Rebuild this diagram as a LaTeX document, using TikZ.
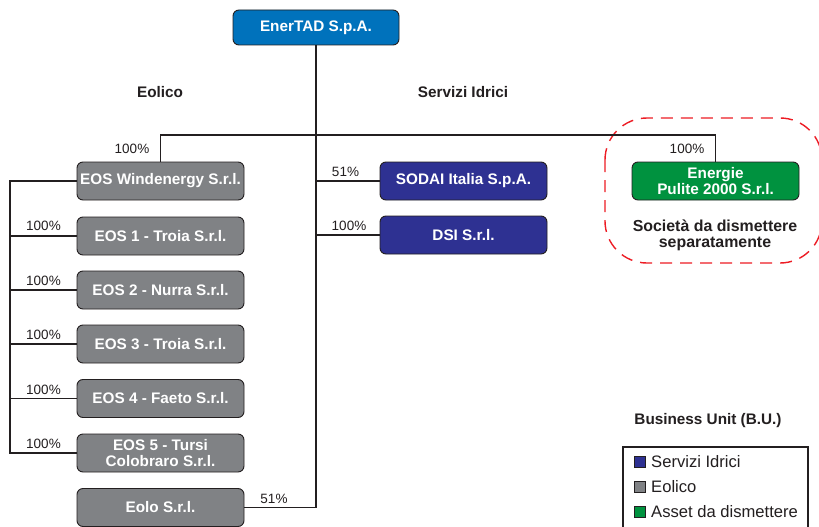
\documentclass[tikz,border=0pt]{standalone}
\usepackage{fontspec}
\setmainfont{Liberation Sans}
\definecolor{enerblue}{HTML}{0072BC}
\definecolor{servblue}{HTML}{2E3192}
\definecolor{eolgray}{HTML}{808285}
\definecolor{assetgreen}{HTML}{00923F}
\definecolor{linedark}{HTML}{231F20}
\definecolor{dashred}{HTML}{ED1C24}
\begin{document}
\begin{tikzpicture}[x=1pt,y=-1pt,
  box/.style={draw=linedark, line width=0.9pt, rounded corners=6pt,
    minimum width=167pt, minimum height=38pt, inner sep=0pt, text=white,
    font=\fontsize{15.3}{15.5}\selectfont\bfseries, align=center},
  pct/.style={font=\fontsize{13.5}{14}\selectfont, text=linedark, inner sep=0pt},
  head/.style={font=\fontsize{15.3}{16}\selectfont\bfseries, text=linedark, inner sep=0pt, align=center},
  conn/.style={draw=linedark, line width=1.3pt},
  legsq/.style={draw=linedark, line width=0.8pt, minimum size=11pt, inner sep=0pt},
  legtxt/.style={font=\fontsize{16.6}{17}\selectfont, text=linedark, inner sep=0pt, anchor=west}
]
\useasboundingbox (0,0) rectangle (819,527);
\fill[white] (0,0) rectangle (819,527);

% dashed region
\draw[dashred, line width=1.4pt, dash pattern=on 12pt off 8pt, rounded corners=42pt]
  (605,118) rectangle (822,263);

% top node
\node[box, fill=enerblue, minimum width=166pt, minimum height=35pt] (ener) at (316,27.5) {EnerTAD S.p.A.};

% headings
\node[head] (heol) at (160,92) {Eolico};
\node[head] (hserv) at (463,92) {Servizi Idrici};

% eolico boxes
\node[box, fill=eolgray] (wind) at (160.5,181) {EOS Windenergy S.r.l.};
\node[box, fill=eolgray] (eos1) at (160.5,236) {EOS 1 - Troia S.r.l.};
\node[box, fill=eolgray] (eos2) at (160.5,290) {EOS 2 - Nurra S.r.l.};
\node[box, fill=eolgray] (eos3) at (160.5,344) {EOS 3 - Troia S.r.l.};
\node[box, fill=eolgray] (eos4) at (160.5,398.5) {EOS 4 - Faeto S.r.l.};
\node[box, fill=eolgray] (eos5) at (160.5,453) {EOS 5 - Tursi\\Colobraro S.r.l.};
\node[box, fill=eolgray] (eolo) at (160.5,507.5) {Eolo S.r.l.};

% servizi idrici
\node[box, fill=servblue] (sodai) at (463.5,181) {SODAI Italia S.p.A.};
\node[box, fill=servblue] (dsi) at (463.5,235) {DSI S.r.l.};

% asset
\node[box, fill=assetgreen] (energ) at (715.5,181) {Energie\\Pulite 2000 S.r.l.};
\node[head, font=\fontsize{15.9}{15.5}\selectfont\bfseries] (soc) at (715,235.5) {Società da dismettere\\separatamente};

% coordinates
\coordinate (bar) at (316,135);
\coordinate (rail) at (10,0);

% connectors
\draw[conn] (ener.south) -- (ener.south |- eolo.east) -- (eolo.east);
\draw[conn] (wind.north) -- (wind.north |- bar) -- (energ.north |- bar) -- (energ.north);
\draw[conn] (ener.south |- sodai.west) -- (sodai.west);
\draw[conn] (ener.south |- dsi.west) -- (dsi.west);
\draw[conn] (wind.west) -- (wind.west -| rail) -- (eos5.west -| rail) -- (eos5.west);
\draw[conn] (eos1.west -| rail) -- (eos1.west);
\draw[conn] (eos2.west -| rail) -- (eos2.west);
\draw[conn] (eos3.west -| rail) -- (eos3.west);
\draw[conn] (eos4.west -| rail) -- (eos4.west);

% percentages
\node[pct] (pw) at (132,149) {100\%};
\node[pct] (pe) at (687,149) {100\%};
\node[pct] (p1) at (43.5,226) {100\%};
\node[pct] (p2) at (43.5,280.5) {100\%};
\node[pct] (p3) at (43.5,335) {100\%};
\node[pct] (p4) at (43.5,389.5) {100\%};
\node[pct] (p5) at (43.5,444) {100\%};
\node[pct] (ps) at (345.5,172) {51\%};
\node[pct] (pd) at (349,226) {100\%};
\node[pct] (pl) at (274,499) {51\%};

% legend
\node[head] (bu) at (708,421) {Business Unit (B.U.)};
\draw[draw=linedark, line width=1.2pt] (623,447) rectangle (808,530);
\node[legsq, fill=servblue] (l1) at (639.5,462) {};
\node[legsq, fill=eolgray] (l2) at (639.5,487) {};
\node[legsq, fill=assetgreen] (l3) at (639.5,512) {};
\node[legtxt] (t1) at (651,462) {Servizi Idrici};
\node[legtxt] (t2) at (651,487) {Eolico};
\node[legtxt] (t3) at (651,512) {Asset da dismettere};
\end{tikzpicture}
\end{document}
